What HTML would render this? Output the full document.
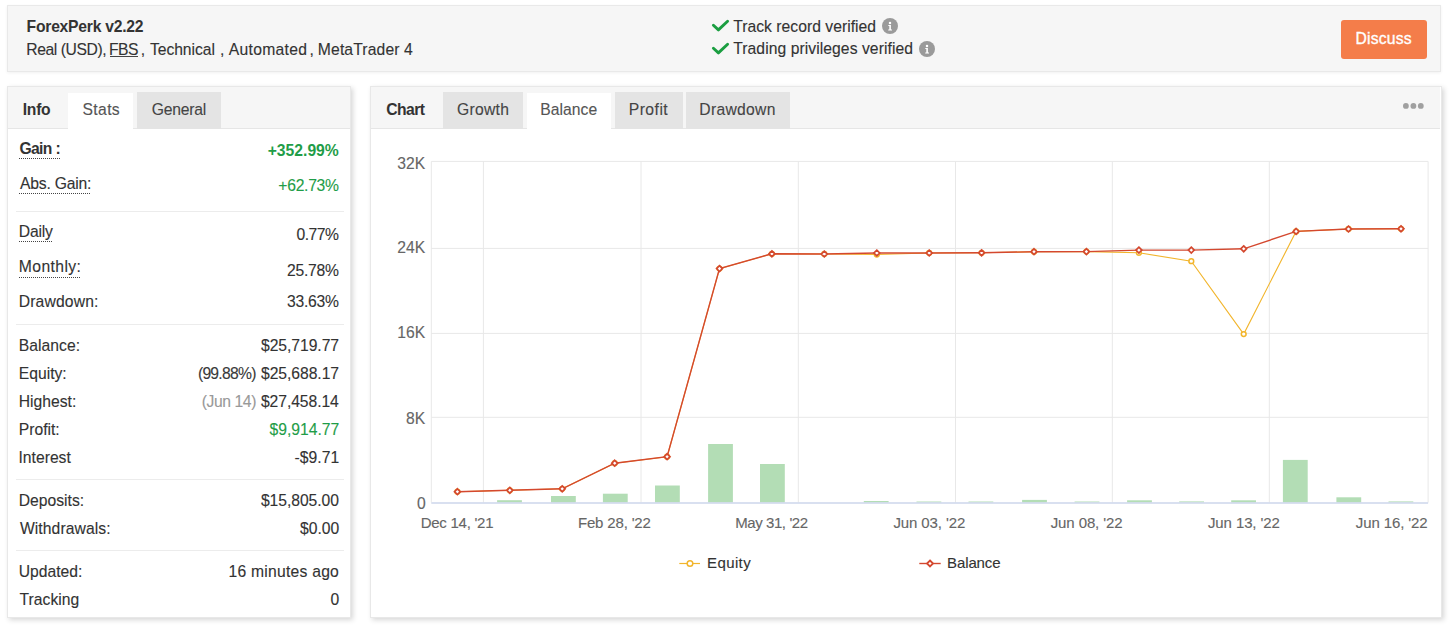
<!DOCTYPE html>
<html><head><meta charset="utf-8"><title>ForexPerk</title>
<style>
*{margin:0;padding:0;box-sizing:border-box}
html,body{width:1450px;height:630px;overflow:hidden;background:#fff;font-family:"Liberation Sans",sans-serif;color:#333}
.b{position:absolute}
.t{position:absolute;white-space:nowrap;line-height:1;-webkit-text-stroke:0.12px currentColor}
</style></head><body>
<div class="b" style="left:7px;top:5px;width:1434px;height:67px;background:#f6f6f6;border:1px solid #e9e9e9;box-shadow:0 1px 3px rgba(0,0,0,.06)"></div>
<div class="b" style="left:7px;top:86px;width:344px;height:531.5px;background:#fff;border:1px solid #e8e8e8;box-shadow:2px 2px 5px rgba(0,0,0,.16)"></div>
<div class="b" style="left:370px;top:86px;width:1071.5px;height:532.3px;background:#fff;border:1px solid #e8e8e8;box-shadow:2px 2px 5px rgba(0,0,0,.16)"></div>
<div class="b" style="left:8px;top:87px;width:342px;height:42px;background:#f6f6f6;border-bottom:1px solid #e6e6e6"></div>
<div class="b" style="left:371px;top:87px;width:1069px;height:42px;background:#f6f6f6;border-bottom:1px solid #e6e6e6"></div>
<div class="b" style="left:68.4px;top:92.6px;width:64.6px;height:37px;background:#fff"></div>
<div class="b" style="left:137.2px;top:92px;width:83.80000000000001px;height:36.5px;background:#e4e4e4"></div>
<div class="b" style="left:443.3px;top:92px;width:79.69999999999999px;height:36.5px;background:#e4e4e4"></div>
<div class="b" style="left:527.2px;top:92.6px;width:83.89999999999998px;height:37px;background:#fff"></div>
<div class="b" style="left:615.2px;top:92px;width:67.5px;height:36.5px;background:#e4e4e4"></div>
<div class="b" style="left:685.5px;top:92px;width:104.39999999999998px;height:36.5px;background:#e4e4e4"></div>
<div class="t" style="left:22.70px;top:101.61px;font-size:15.7px;color:#333;font-weight:bold;-webkit-text-stroke:0;letter-spacing:-0.250px;">Info</div>
<div class="t" style="left:82.55px;top:101.61px;font-size:15.7px;color:#555;letter-spacing:0.344px;">Stats</div>
<div class="t" style="left:151.85px;top:101.61px;font-size:15.7px;color:#444;letter-spacing:-0.242px;">General</div>
<div class="t" style="left:386.18px;top:101.61px;font-size:15.7px;color:#333;font-weight:bold;-webkit-text-stroke:0;letter-spacing:-0.544px;">Chart</div>
<div class="t" style="left:456.95px;top:101.61px;font-size:15.7px;color:#444;letter-spacing:0.280px;">Growth</div>
<div class="t" style="left:540.25px;top:101.61px;font-size:15.7px;color:#555;letter-spacing:0.033px;">Balance</div>
<div class="t" style="left:628.75px;top:101.61px;font-size:15.7px;color:#444;letter-spacing:0.465px;">Profit</div>
<div class="t" style="left:699.35px;top:101.61px;font-size:15.7px;color:#444;letter-spacing:0.282px;">Drawdown</div>
<svg class="b" style="left:1395px;top:95px" width="40" height="22" viewBox="1395 95 40 22"><circle cx="1405.9" cy="105.9" r="2.9" fill="#a0a0a0"/><circle cx="1413.4" cy="105.9" r="2.9" fill="#a0a0a0"/><circle cx="1420.8" cy="105.9" r="2.9" fill="#a0a0a0"/></svg>
<div class="t" style="left:26.60px;top:18.51px;font-size:15.7px;color:#333;font-weight:bold;-webkit-text-stroke:0;letter-spacing:-0.246px;">ForexPerk v2.22</div>
<div class="t" style="left:26.35px;top:41.61px;font-size:15.7px;color:#333;letter-spacing:-0.435px;">Real (USD),</div>
<div class="t" style="left:109.05px;top:41.61px;font-size:15.7px;color:#333;letter-spacing:-0.512px;">FBS</div>
<div class="t" style="left:140.80px;top:41.61px;font-size:15.7px;color:#333;">,</div>
<div class="t" style="left:149.93px;top:41.61px;font-size:15.7px;color:#333;letter-spacing:-0.050px;">Technical</div>
<div class="t" style="left:220.00px;top:41.61px;font-size:15.7px;color:#333;">,</div>
<div class="t" style="left:228.80px;top:41.61px;font-size:15.7px;color:#333;letter-spacing:0.284px;">Automated</div>
<div class="t" style="left:309.50px;top:41.61px;font-size:15.7px;color:#333;">,</div>
<div class="t" style="left:317.85px;top:41.61px;font-size:15.7px;color:#333;letter-spacing:0.123px;">MetaTrader 4</div>
<div class="b" id="fbsu" style="left:110.3px;top:55.6px;width:27.6px;height:1.1px;background:#444"></div>
<div class="t" style="left:733.23px;top:18.61px;font-size:15.7px;color:#333;letter-spacing:0.024px;">Track record verified</div>
<div class="t" style="left:733.23px;top:41.21px;font-size:15.7px;color:#333;letter-spacing:0.061px;">Trading privileges verified</div>
<svg class="b" style="left:705px;top:12px" width="30" height="26" viewBox="705 12 30 26"><path d="M713.4 25.3 L718.4 29.9 L727.6 21.2" fill="none" stroke="#1b9e41" stroke-width="2.9" stroke-linecap="round" stroke-linejoin="round"/></svg>
<svg class="b" style="left:705px;top:34.9px" width="30" height="26" viewBox="705 34.9 30 26"><path d="M713.4 48.2 L718.4 52.8 L727.6 44.099999999999994" fill="none" stroke="#1b9e41" stroke-width="2.9" stroke-linecap="round" stroke-linejoin="round"/></svg>
<svg class="b" style="left:881.9px;top:17.8px" width="16" height="16" viewBox="0 0 16 16"><circle cx="8" cy="8" r="8" fill="#9a9a9a"/><circle cx="8" cy="5" r="1.25" fill="#fff"/><path d="M6.3 7 H8.9 V11.6 H10 V12.6 H6.2 V11.6 H7.3 V8 H6.3 Z" fill="#fff"/></svg>
<svg class="b" style="left:918.7px;top:40.6px" width="16" height="16" viewBox="0 0 16 16"><circle cx="8" cy="8" r="8" fill="#9a9a9a"/><circle cx="8" cy="5" r="1.25" fill="#fff"/><path d="M6.3 7 H8.9 V11.6 H10 V12.6 H6.2 V11.6 H7.3 V8 H6.3 Z" fill="#fff"/></svg>
<div class="b" style="left:1341px;top:20px;width:86px;height:39px;background:#f47d4a;border-radius:3px"></div>
<div class="t" style="left:1355.45px;top:30.71px;font-size:15.7px;color:#fff;letter-spacing:0.221px;-webkit-text-stroke:0.35px #fff;">Discuss</div>
<div class="t" style="left:19.38px;top:140.61px;font-size:15.7px;color:#333;font-weight:bold;-webkit-text-stroke:0;letter-spacing:-0.620px;">Gain :</div>
<div class="b" style="left:19px;top:157.8px;width:41px;height:1px;background-image:linear-gradient(to right,#444 50%,transparent 50%);background-size:2px 1px"></div>
<div class="t" style="left:267.68px;top:143.01px;font-size:15.7px;color:#1f9d48;font-weight:bold;-webkit-text-stroke:0;letter-spacing:0.004px;">+352.99%</div>
<div class="t" style="left:20.00px;top:175.61px;font-size:15.7px;color:#333;letter-spacing:-0.214px;">Abs. Gain:</div>
<div class="b" style="left:19px;top:192.8px;width:72px;height:1px;background-image:linear-gradient(to right,#444 50%,transparent 50%);background-size:2px 1px"></div>
<div class="t" style="left:278.35px;top:178.41px;font-size:15.7px;color:#1f9d48;letter-spacing:-0.296px;">+62.73%</div>
<div class="b" style="left:16px;top:210.8px;width:328px;height:1px;background:#ececec"></div>
<div class="t" style="left:18.75px;top:224.41px;font-size:15.7px;color:#333;letter-spacing:-0.188px;">Daily</div>
<div class="b" style="left:19px;top:241.4px;width:34px;height:1px;background-image:linear-gradient(to right,#444 50%,transparent 50%);background-size:2px 1px"></div>
<div class="t" style="left:296.38px;top:227.41px;font-size:15.7px;color:#333;letter-spacing:-0.450px;">0.77%</div>
<div class="t" style="left:18.75px;top:259.11px;font-size:15.7px;color:#333;letter-spacing:0.418px;">Monthly:</div>
<div class="b" style="left:19px;top:276.9px;width:61px;height:1px;background-image:linear-gradient(to right,#444 50%,transparent 50%);background-size:2px 1px"></div>
<div class="t" style="left:286.95px;top:262.51px;font-size:15.7px;color:#333;letter-spacing:-0.225px;">25.78%</div>
<div class="t" style="left:18.75px;top:294.21px;font-size:15.7px;color:#333;letter-spacing:0.147px;">Drawdown:</div>
<div class="t" style="left:287.07px;top:294.31px;font-size:15.7px;color:#333;letter-spacing:-0.250px;">33.63%</div>
<div class="b" style="left:16px;top:323.9px;width:328px;height:1px;background:#ececec"></div>
<div class="t" style="left:18.75px;top:337.81px;font-size:15.7px;color:#333;letter-spacing:0.039px;">Balance:</div>
<div class="t" style="left:260.98px;top:337.81px;font-size:15.7px;color:#333;letter-spacing:-0.044px;">$25,719.77</div>
<div class="t" style="left:18.75px;top:365.81px;font-size:15.7px;color:#333;">Equity:</div>
<div class="t" style="left:260.98px;top:365.81px;font-size:15.7px;color:#333;letter-spacing:-0.044px;">$25,688.17</div>
<div class="t" style="left:18.75px;top:393.81px;font-size:15.7px;color:#333;">Highest:</div>
<div class="t" style="left:260.98px;top:393.81px;font-size:15.7px;color:#333;letter-spacing:-0.072px;">$27,458.14</div>
<div class="t" style="left:18.75px;top:421.81px;font-size:15.7px;color:#333;">Profit:</div>
<div class="t" style="left:269.48px;top:421.81px;font-size:15.7px;color:#1f9d48;letter-spacing:-0.003px;">$9,914.77</div>
<div class="t" style="left:18.50px;top:449.81px;font-size:15.7px;color:#333;">Interest</div>
<div class="t" style="left:294.38px;top:449.81px;font-size:15.7px;color:#333;letter-spacing:0.090px;">-$9.71</div>
<div class="t" style="left:197.90px;top:365.81px;font-size:15.7px;color:#3a3a3a;letter-spacing:-0.739px;">(99.88%)</div>
<div class="t" style="left:201.70px;top:393.81px;font-size:15.7px;color:#999;letter-spacing:-0.407px;">(Jun 14)</div>
<div class="b" style="left:16px;top:478.8px;width:328px;height:1px;background:#ececec"></div>
<div class="t" style="left:18.75px;top:493.11px;font-size:15.7px;color:#333;">Deposits:</div>
<div class="t" style="left:260.88px;top:493.11px;font-size:15.7px;color:#333;letter-spacing:-0.047px;">$15,805.00</div>
<div class="t" style="left:19.88px;top:520.71px;font-size:15.7px;color:#333;letter-spacing:0.089px;">Withdrawals:</div>
<div class="t" style="left:299.95px;top:520.71px;font-size:15.7px;color:#333;">$0.00</div>
<div class="b" style="left:16px;top:549.7px;width:328px;height:1px;background:#ececec"></div>
<div class="t" style="left:18.75px;top:564.01px;font-size:15.7px;color:#333;">Updated:</div>
<div class="t" style="left:228.57px;top:564.01px;font-size:15.7px;color:#333;letter-spacing:0.231px;">16 minutes ago</div>
<div class="t" style="left:19.62px;top:591.51px;font-size:15.7px;color:#333;">Tracking</div>
<div class="t" style="left:330.57px;top:591.51px;font-size:15.7px;color:#333;">0</div>
<svg class="b" style="left:0;top:0" width="1450" height="630" viewBox="0 0 1450 630"><line x1="431.3" y1="161.4" x2="1428.1" y2="161.4" stroke="#e8e8e8" stroke-width="1"/><line x1="431.3" y1="248.4" x2="1428.1" y2="248.4" stroke="#e8e8e8" stroke-width="1"/><line x1="431.3" y1="333.4" x2="1428.1" y2="333.4" stroke="#e8e8e8" stroke-width="1"/><line x1="431.3" y1="417.3" x2="1428.1" y2="417.3" stroke="#e8e8e8" stroke-width="1"/><line x1="431.3" y1="161.4" x2="431.3" y2="502.5" stroke="#e8e8e8" stroke-width="1"/><line x1="483.4" y1="161.4" x2="483.4" y2="502.5" stroke="#e8e8e8" stroke-width="1"/><line x1="641.0" y1="161.4" x2="641.0" y2="502.5" stroke="#e8e8e8" stroke-width="1"/><line x1="798.3" y1="161.4" x2="798.3" y2="502.5" stroke="#e8e8e8" stroke-width="1"/><line x1="955.5" y1="161.4" x2="955.5" y2="502.5" stroke="#e8e8e8" stroke-width="1"/><line x1="1112.3" y1="161.4" x2="1112.3" y2="502.5" stroke="#e8e8e8" stroke-width="1"/><line x1="1269.3" y1="161.4" x2="1269.3" y2="502.5" stroke="#e8e8e8" stroke-width="1"/><line x1="1428.1" y1="161.4" x2="1428.1" y2="502.5" stroke="#e8e8e8" stroke-width="1"/><rect x="497.1" y="500.2" width="24.8" height="2.3" fill="#b3ddb5"/><rect x="551.0" y="496" width="24.8" height="6.5" fill="#b3ddb5"/><rect x="602.9" y="493.7" width="24.8" height="8.8" fill="#b3ddb5"/><rect x="655.0" y="485.5" width="24.8" height="17.0" fill="#b3ddb5"/><rect x="708.1" y="444" width="24.8" height="58.5" fill="#b3ddb5"/><rect x="760.0" y="464" width="24.8" height="38.5" fill="#b3ddb5"/><rect x="863.8" y="501" width="24.8" height="1.5" fill="#b3ddb5"/><rect x="916.5" y="501.5" width="24.8" height="1.0" fill="#b3ddb5"/><rect x="968.5" y="501.5" width="24.8" height="1.0" fill="#b3ddb5"/><rect x="1022.1" y="499.9" width="24.8" height="2.6" fill="#b3ddb5"/><rect x="1074.6" y="501.5" width="24.8" height="1.0" fill="#b3ddb5"/><rect x="1127.1" y="500.3" width="24.8" height="2.2" fill="#b3ddb5"/><rect x="1179.2" y="501.4" width="24.8" height="1.1" fill="#b3ddb5"/><rect x="1231.2" y="500.3" width="24.8" height="2.2" fill="#b3ddb5"/><rect x="1282.9" y="459.9" width="24.8" height="42.6" fill="#b3ddb5"/><rect x="1336.4" y="497.3" width="24.8" height="5.2" fill="#b3ddb5"/><rect x="1388.5" y="501.4" width="24.8" height="1.1" fill="#b3ddb5"/><line x1="431.3" y1="502.9" x2="1428.1" y2="502.9" stroke="#ccd6eb" stroke-width="1.5"/><polyline fill="none" stroke="#f2b52c" stroke-width="1.1" points="457.4,491.7 509.8,490.3 562.2,488.8 614.7,463.2 667.1,456.7 719.5,268.6 771.9,253.8 824.3,254 876.8,254.5 929.2,253 981.6,252.8 1034.0,251.7 1086.4,251.6 1138.9,252.8 1191.3,261.2 1243.7,334.1 1296.1,231.4 1348.5,229 1401.0,228.8"/><circle cx="457.4" cy="491.7" r="2.4" fill="#fff" stroke="#f2b52c" stroke-width="1.5"/><circle cx="509.8" cy="490.3" r="2.4" fill="#fff" stroke="#f2b52c" stroke-width="1.5"/><circle cx="562.2" cy="488.8" r="2.4" fill="#fff" stroke="#f2b52c" stroke-width="1.5"/><circle cx="614.7" cy="463.2" r="2.4" fill="#fff" stroke="#f2b52c" stroke-width="1.5"/><circle cx="667.1" cy="456.7" r="2.4" fill="#fff" stroke="#f2b52c" stroke-width="1.5"/><circle cx="719.5" cy="268.6" r="2.4" fill="#fff" stroke="#f2b52c" stroke-width="1.5"/><circle cx="771.9" cy="253.8" r="2.4" fill="#fff" stroke="#f2b52c" stroke-width="1.5"/><circle cx="824.3" cy="254" r="2.4" fill="#fff" stroke="#f2b52c" stroke-width="1.5"/><circle cx="876.8" cy="254.5" r="2.4" fill="#fff" stroke="#f2b52c" stroke-width="1.5"/><circle cx="929.2" cy="253" r="2.4" fill="#fff" stroke="#f2b52c" stroke-width="1.5"/><circle cx="981.6" cy="252.8" r="2.4" fill="#fff" stroke="#f2b52c" stroke-width="1.5"/><circle cx="1034.0" cy="251.7" r="2.4" fill="#fff" stroke="#f2b52c" stroke-width="1.5"/><circle cx="1086.4" cy="251.6" r="2.4" fill="#fff" stroke="#f2b52c" stroke-width="1.5"/><circle cx="1138.9" cy="252.8" r="2.4" fill="#fff" stroke="#f2b52c" stroke-width="1.5"/><circle cx="1191.3" cy="261.2" r="2.4" fill="#fff" stroke="#f2b52c" stroke-width="1.5"/><circle cx="1243.7" cy="334.1" r="2.4" fill="#fff" stroke="#f2b52c" stroke-width="1.5"/><circle cx="1296.1" cy="231.4" r="2.4" fill="#fff" stroke="#f2b52c" stroke-width="1.5"/><circle cx="1348.5" cy="229" r="2.4" fill="#fff" stroke="#f2b52c" stroke-width="1.5"/><circle cx="1401.0" cy="228.8" r="2.4" fill="#fff" stroke="#f2b52c" stroke-width="1.5"/><polyline fill="none" stroke="#d4482f" stroke-width="1.4" points="457.4,491.7 509.8,490.3 562.2,488.8 614.7,463.2 667.1,456.7 719.5,268.6 771.9,253.8 824.3,254 876.8,253 929.2,253 981.6,252.8 1034.0,251.7 1086.4,251.6 1138.9,250.1 1191.3,250.1 1243.7,248.8 1296.1,231.4 1348.5,229 1401.0,228.8"/><path d="M457.4 488.8 L460.3 491.7 L457.4 494.6 L454.5 491.7 Z" fill="#fff" stroke="#d4482f" stroke-width="1.7"/><path d="M509.8 487.4 L512.7 490.3 L509.8 493.2 L506.9 490.3 Z" fill="#fff" stroke="#d4482f" stroke-width="1.7"/><path d="M562.2 485.9 L565.1 488.8 L562.2 491.7 L559.3 488.8 Z" fill="#fff" stroke="#d4482f" stroke-width="1.7"/><path d="M614.7 460.3 L617.6 463.2 L614.7 466.1 L611.8 463.2 Z" fill="#fff" stroke="#d4482f" stroke-width="1.7"/><path d="M667.1 453.8 L670.0 456.7 L667.1 459.6 L664.2 456.7 Z" fill="#fff" stroke="#d4482f" stroke-width="1.7"/><path d="M719.5 265.7 L722.4 268.6 L719.5 271.5 L716.6 268.6 Z" fill="#fff" stroke="#d4482f" stroke-width="1.7"/><path d="M771.9 250.9 L774.8 253.8 L771.9 256.7 L769.0 253.8 Z" fill="#fff" stroke="#d4482f" stroke-width="1.7"/><path d="M824.3 251.1 L827.2 254.0 L824.3 256.9 L821.4 254.0 Z" fill="#fff" stroke="#d4482f" stroke-width="1.7"/><path d="M876.8 250.1 L879.7 253.0 L876.8 255.9 L873.9 253.0 Z" fill="#fff" stroke="#d4482f" stroke-width="1.7"/><path d="M929.2 250.1 L932.1 253.0 L929.2 255.9 L926.3 253.0 Z" fill="#fff" stroke="#d4482f" stroke-width="1.7"/><path d="M981.6 249.9 L984.5 252.8 L981.6 255.7 L978.7 252.8 Z" fill="#fff" stroke="#d4482f" stroke-width="1.7"/><path d="M1034.0 248.8 L1036.9 251.7 L1034.0 254.6 L1031.1 251.7 Z" fill="#fff" stroke="#d4482f" stroke-width="1.7"/><path d="M1086.4 248.7 L1089.3 251.6 L1086.4 254.5 L1083.5 251.6 Z" fill="#fff" stroke="#d4482f" stroke-width="1.7"/><path d="M1138.9 247.2 L1141.8 250.1 L1138.9 253.0 L1136.0 250.1 Z" fill="#fff" stroke="#d4482f" stroke-width="1.7"/><path d="M1191.3 247.2 L1194.2 250.1 L1191.3 253.0 L1188.4 250.1 Z" fill="#fff" stroke="#d4482f" stroke-width="1.7"/><path d="M1243.7 245.9 L1246.6 248.8 L1243.7 251.7 L1240.8 248.8 Z" fill="#fff" stroke="#d4482f" stroke-width="1.7"/><path d="M1296.1 228.5 L1299.0 231.4 L1296.1 234.3 L1293.2 231.4 Z" fill="#fff" stroke="#d4482f" stroke-width="1.7"/><path d="M1348.5 226.1 L1351.4 229.0 L1348.5 231.9 L1345.6 229.0 Z" fill="#fff" stroke="#d4482f" stroke-width="1.7"/><path d="M1401.0 225.9 L1403.9 228.8 L1401.0 231.7 L1398.1 228.8 Z" fill="#fff" stroke="#d4482f" stroke-width="1.7"/><line x1="679.3" y1="563.5" x2="700" y2="563.5" stroke="#f2b52c" stroke-width="1.2"/><circle cx="690" cy="563.5" r="2.8" fill="#fff" stroke="#f2b52c" stroke-width="1.5"/><line x1="919.3" y1="563.5" x2="940.7" y2="563.5" stroke="#d4482f" stroke-width="1.4"/><path d="M930 560.5 L933 563.5 L930 566.5 L927 563.5 Z" fill="#fff" stroke="#d4482f" stroke-width="1.8"/></svg>
<div class="t" style="left:397.25px;top:155.71px;font-size:15.7px;color:#666;">32K</div>
<div class="t" style="left:397.25px;top:239.61px;font-size:15.7px;color:#666;">24K</div>
<div class="t" style="left:397.25px;top:324.61px;font-size:15.7px;color:#666;">16K</div>
<div class="t" style="left:406.00px;top:410.51px;font-size:15.7px;color:#666;">8K</div>
<div class="t" style="left:416.88px;top:495.71px;font-size:15.7px;color:#666;">0</div>
<div class="t" style="left:420.65px;top:515.30px;font-size:15px;color:#666;letter-spacing:-0.250px;">Dec 14, '21</div>
<div class="t" style="left:577.91px;top:515.30px;font-size:15px;color:#666;letter-spacing:-0.163px;">Feb 28, '22</div>
<div class="t" style="left:735.17px;top:515.30px;font-size:15px;color:#666;letter-spacing:-0.412px;">May 31, '22</div>
<div class="t" style="left:893.43px;top:515.30px;font-size:15px;color:#666;letter-spacing:-0.100px;">Jun 03, '22</div>
<div class="t" style="left:1050.69px;top:515.30px;font-size:15px;color:#666;letter-spacing:-0.100px;">Jun 08, '22</div>
<div class="t" style="left:1207.95px;top:515.30px;font-size:15px;color:#666;letter-spacing:-0.100px;">Jun 13, '22</div>
<div class="t" style="left:1355.75px;top:515.30px;font-size:15px;color:#666;letter-spacing:-0.100px;">Jun 16, '22</div>
<div class="t" style="left:707.05px;top:555.10px;font-size:15px;color:#333;letter-spacing:0.380px;">Equity</div>
<div class="t" style="left:947.05px;top:555.10px;font-size:15px;color:#333;letter-spacing:-0.112px;">Balance</div>
</body></html>
